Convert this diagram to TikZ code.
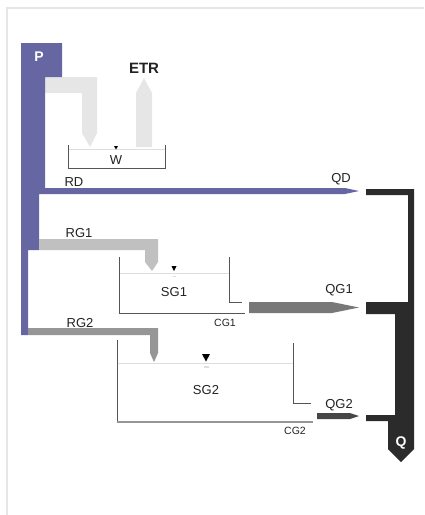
\documentclass[tikz,border=0pt]{standalone}
\usepackage{fontspec}
\setmainfont{Liberation Sans}
\definecolor{purp}{RGB}{102,102,162}
\definecolor{pale}{RGB}{230,230,230}
\definecolor{rgone}{RGB}{192,192,192}
\definecolor{rgtwo}{RGB}{150,150,150}
\definecolor{qgone}{RGB}{120,120,120}
\definecolor{qgtwo}{RGB}{70,70,70}
\definecolor{qdark}{RGB}{43,43,43}
\definecolor{wall}{RGB}{85,85,85}
\definecolor{water}{RGB}{222,222,222}
\definecolor{txt}{RGB}{34,34,34}
\begin{document}
\begin{tikzpicture}[x=1pt,y=-1pt,
  lbl/.style={text=txt,font=\fontsize{13}{15}\selectfont,inner sep=0pt},
  small/.style={text=txt,font=\fontsize{10.5}{12}\selectfont,inner sep=0pt},
  wlab/.style={text=white,font=\fontsize{14}{16}\selectfont\bfseries,inner sep=0pt},
  wallline/.style={draw=wall,line width=1pt},
  waterline/.style={draw=water,line width=1pt}]
\useasboundingbox (0,0) rectangle (424,515);
% frame
\draw[draw=pale,line width=1.5pt] (7,515) -- (7,8) -- (424,8);
% pale evaporation branch
\fill[pale] (45,77) -- (97,77) -- (97,133) -- (90,147) -- (82,133) -- (82,93) -- (45,93) -- cycle;
\fill[pale] (136,147) -- (136,93) -- (144,78) -- (152,93) -- (152,147) -- cycle;
% purple main
\fill[purp] (21,43) -- (62,43) -- (62,77) -- (45,77) -- (45,188) -- (345,188) -- (359,191) -- (345,194)
  -- (39,194) -- (39,250) -- (28,250) -- (28,335) -- (21,335) -- cycle;
% RG1, RG2
\fill[rgone] (39,239) -- (158,239) -- (158,262) -- (152,271) -- (145,262) -- (145,250) -- (39,250) -- cycle;
\fill[rgtwo] (28,328) -- (158,328) -- (158,353) -- (154,362) -- (150,353) -- (150,335) -- (28,335) -- cycle;
% QG1, QG2
\fill[qgone] (249,302) -- (332,302) -- (359,307.5) -- (332,313) -- (249,313) -- cycle;
\fill[qgtwo] (317,413) -- (350,413) -- (359,416) -- (350,419) -- (317,419) -- cycle;
% Q collector
\fill[qdark] (366,189) -- (414,189) -- (414,449) -- (401,462) -- (388,449) -- (388,421) -- (366,421)
  -- (366,415) -- (395,415) -- (395,314) -- (366,314) -- (366,302) -- (408,302) -- (408,195) -- (366,195) -- cycle;
% W reservoir
\draw[waterline] (68,149) -- (165,149);
\draw[wallline] (68,145) -- (68,168) -- (165,168) -- (165,145);
\fill[black] (114,146) -- (118,146) -- (116,149.5) -- cycle;
% SG1 reservoir
\draw[waterline] (119,273) -- (229,273);
\draw[wallline] (119,257) -- (119,313) -- (245,313);
\draw[wallline] (229,257) -- (229,302) -- (242,302);
\fill[black] (171.5,266) -- (176.5,266) -- (174,271) -- cycle;
\draw[draw=water,line width=1pt] (172.5,276) -- (175.5,276);
% SG2 reservoir
\draw[waterline] (117,363) -- (293,363);
\draw[draw=wall,line width=1pt] (117,340) -- (117,422);
\draw[draw=rgtwo,line width=1.8pt] (117,422) -- (313,422);
\draw[wallline] (293,343) -- (293,403) -- (311,403);
\fill[black] (202,354) -- (210,354) -- (206,361.5) -- cycle;
\draw[draw=water,line width=1.2pt] (203.5,367) -- (208.5,367);
% labels
\node[wlab] (lP) at (39,57) {P};
\node[text=txt,font=\fontsize{15}{17}\selectfont\bfseries,inner sep=0pt] (lETR) at (144,68) {ETR};
\node[lbl] (lW) at (116,160) {W};
\node[lbl] (lRD) at (74,182) {RD};
\node[lbl] (lQD) at (341,179) {QD};
\node[lbl] (lRG1) at (79,233) {RG1};
\node[lbl] (lSG1) at (174,292) {SG1};
\node[small] (lCG1) at (225,323) {CG1};
\node[lbl] (lQG1) at (339,290) {QG1};
\node[lbl] (lRG2) at (80,323) {RG2};
\node[lbl] (lSG2) at (206,390) {SG2};
\node[lbl] (lQG2) at (339,405) {QG2};
\node[small] (lCG2) at (295,431) {CG2};
\node[wlab] (lQ) at (401,443) {Q};
\end{tikzpicture}
\end{document}
